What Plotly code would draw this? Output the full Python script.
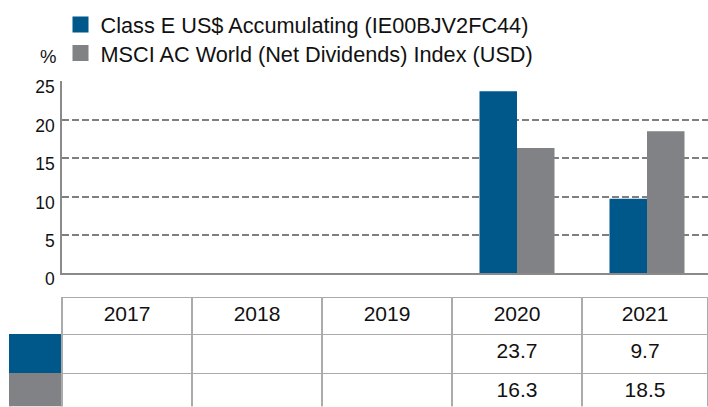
import plotly.graph_objects as go

categories = ['2017', '2018', '2019', '2020', '2021']
fund_name = 'Class E US$ Accumulating (IE00BJV2FC44)'
index_name = 'MSCI AC World (Net Dividends) Index (USD)'
fund_values = [None, None, None, 23.7, 9.7]
index_values = [None, None, None, 16.3, 18.5]
y_ticks = [0, 5, 10, 15, 20, 25]

BLUE = '#00578A'
GRAY = '#808285'
GRID = '#7f7f7f'
TLINE = '#ababab'
FONT = 'Liberation Sans, Arial, sans-serif'

W, H = 708, 407


def fmt(v):
    return '' if v is None else f'{v:.1f}'


fig = go.Figure()
fig.add_trace(go.Bar(x=categories, y=fund_values, name=fund_name, showlegend=False,
                     marker=dict(color=BLUE, line=dict(width=0))))
fig.add_trace(go.Bar(x=categories, y=index_values, name=index_name, showlegend=False,
                     marker=dict(color=GRAY, line=dict(width=0))))
# legend entries (square swatches), one legend box per series
for nm, col, lg in [(fund_name, BLUE, 'legend'), (index_name, GRAY, 'legend2')]:
    fig.add_trace(go.Scatter(x=[None], y=[None], mode='markers', name=nm, legend=lg,
                             marker=dict(symbol='square', size=16, color=col,
                                         line=dict(width=0)),
                             hoverinfo='skip'))

# table under the chart
header_vals = [''] + categories
cell_vals = [['', '']] + [[fmt(f), fmt(i)] for f, i in zip(fund_values, index_values)]
n = len(categories)
fig.add_trace(go.Table(
    domain=dict(x=[10 / W, 1], y=[0, (H - 297.3) / H]),
    columnwidth=[52] + [130] * (n - 1) + [126],
    header=dict(values=header_vals, height=37,
                fill=dict(color='white'),
                line=dict(color=['rgba(0,0,0,0)'] + [TLINE] * n, width=1.5),
                font=dict(family=FONT, size=21, color='#111111'),
                align='center'),
    cells=dict(values=cell_vals, height=39,
               fill=dict(color=[[BLUE, GRAY]] + [['white', 'white']] * n),
               line=dict(color=[[BLUE, GRAY]] + [[TLINE, TLINE]] * n, width=1.5),
               font=dict(family=FONT, size=21, color='#111111'),
               align='center'),
))

leg_common = dict(xanchor='left', yanchor='top', orientation='v',
                  font=dict(size=21.7, color='#111111'),
                  bgcolor='rgba(0,0,0,0)', borderwidth=0, itemsizing='trace')

fig.update_layout(
    template='none',
    width=W, height=H,
    margin=dict(l=0, r=0, t=0, b=0, pad=0, autoexpand=False),
    paper_bgcolor='white', plot_bgcolor='white',
    barmode='group', bargap=0.423, bargroupgap=0,
    font=dict(family=FONT, size=18, color='#111111'),
    showlegend=True,
    legend=dict(x=60.5 / W, y=1 - 3.8 / H, **leg_common),
    legend2=dict(x=60.5 / W, y=1 - 32.5 / H, **leg_common),
    xaxis=dict(domain=[62 / W, 1], type='category', automargin=False,
               range=[-0.5, 4.5 - 4 / 130], showticklabels=False,
               showgrid=False, showline=True, linecolor='#8a8a8a', linewidth=1.5,
               zeroline=False, fixedrange=True),
    yaxis=dict(domain=[(H - 273.3) / H, (H - 81.3) / H], range=[0, 25], automargin=False,
               tickvals=y_ticks, ticktext=[str(t) for t in y_ticks],
               showgrid=True, gridcolor=GRID, griddash='7px,3px', gridwidth=1.5,
               showline=True, linecolor='#8a8a8a', linewidth=1.5,
               zeroline=False, ticks='', ticklabelstandoff=2, ticklabelshift=6,
               tickfont=dict(size=17.5, color='#111111'), fixedrange=True),
    annotations=[dict(text='%', x=47.5 / W, y=1 - 56 / H, xref='paper', yref='paper',
                      xanchor='center', yanchor='middle', showarrow=False,
                      font=dict(size=18.5, color='#111111'))],
)

fig.write_html('out.html', config={'displayModeBar': False},
               post_script="document.body.style.margin='0';")
